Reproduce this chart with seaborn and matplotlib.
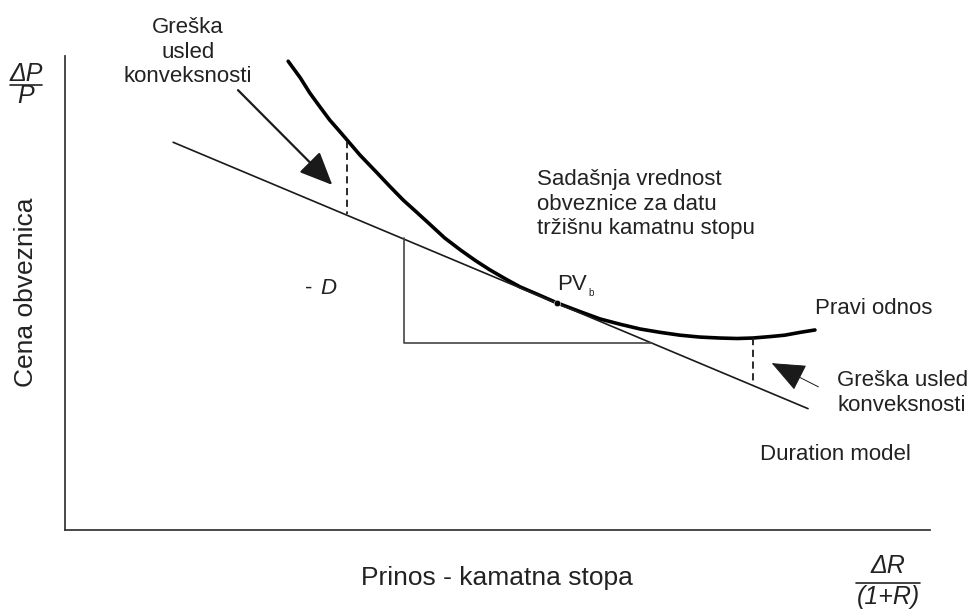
import matplotlib
matplotlib.use("Agg")
import matplotlib.pyplot as plt
import seaborn as sns

# data (abstract units, axes run 0..100 in both directions)
curve_x = [25.8, 27.2, 28.3, 29.5, 30.6, 31.8, 32.6, 34.1, 36.1, 37.6, 39.1, 40.5,
           42.0, 43.9, 45.7, 47.4, 49.1, 50.9, 52.6, 54.9, 56.9, 59.5, 61.9, 64.2,
           66.5, 68.8, 71.1, 73.4, 75.7, 77.7, 79.5, 81.5, 83.2, 85.0, 86.7]
curve_y = [98.9, 95.4, 92.2, 89.2, 86.5, 84.0, 82.3, 79.1, 75.3, 72.4, 69.6, 67.3,
           64.8, 61.6, 59.1, 56.9, 54.9, 53.0, 51.3, 49.5, 47.9, 46.1, 44.5, 43.4,
           42.4, 41.7, 41.1, 40.7, 40.5, 40.4, 40.5, 40.8, 41.1, 41.7, 42.2]

tangent_x = [12.5, 85.9]
tangent_y = [81.8, 25.6]

pv_x, pv_y = 56.9, 47.9

gap_left_x = [32.6, 32.6]
gap_left_y = [82.0, 66.7]
gap_right_x = [79.5, 79.5]
gap_right_y = [40.5, 30.4]

slope_x = [67.9, 39.2, 39.2]
slope_y = [39.5, 39.5, 61.5]

arrow_left = ((20.0, 92.8), (30.9, 72.8))    # tail, tip
arrow_right = ((87.1, 30.2), (81.7, 35.2))

W, H = 971, 610
sns.set_theme(style="white")
plt.rcParams['font.family'] = ['Liberation Sans', 'DejaVu Sans']

fig = plt.figure(figsize=(W / 100, H / 100), dpi=100)
ax = fig.add_axes([65 / W, 80 / H, 865 / W, 474 / H])
ax.set_xlim(0, 100)
ax.set_ylim(0, 100)
ax.set_xticks([])
ax.set_yticks([])
for s in ['top', 'right']:
    ax.spines[s].set_visible(False)
for s in ['left', 'bottom']:
    ax.spines[s].set_color('#3a3a3a')
    ax.spines[s].set_linewidth(1.3)

ink = '#1a1a1a'
sns.lineplot(x=curve_x, y=curve_y, sort=False, estimator=None, color='black', lw=2.6, ax=ax)
sns.lineplot(x=tangent_x, y=tangent_y, sort=False, estimator=None, color=ink, lw=1.2, ax=ax)
sns.lineplot(x=slope_x, y=slope_y, sort=False, estimator=None, color='#444444', lw=1.2, ax=ax)
for gx, gy in [(gap_left_x, gap_left_y), (gap_right_x, gap_right_y)]:
    sns.lineplot(x=gx, y=gy, sort=False, estimator=None, color=ink, lw=1.3,
                 linestyle=(0, (4, 2.5)), ax=ax)
sns.scatterplot(x=[pv_x], y=[pv_y], color='black', s=22, zorder=5, ax=ax)

ax.annotate('', xy=arrow_left[1], xytext=arrow_left[0],
            arrowprops=dict(arrowstyle='-|>,head_length=1.7,head_width=0.75',
                            lw=1.6, color=ink, shrinkA=0, shrinkB=0))
ax.annotate('', xy=arrow_right[1], xytext=arrow_right[0],
            arrowprops=dict(arrowstyle='-|>,head_length=1.8,head_width=0.75',
                            lw=0.7, color=ink, shrinkA=0, shrinkB=0))


def px_text(x, y, s, **kw):
    kw.setdefault('fontsize', 16)
    kw.setdefault('color', '#222222')
    kw.setdefault('va', 'center')
    fig.text(x / W, 1 - y / H, s, **kw)


def px_frac(x, y_num, y_bar, y_den, num, den, half, size=18):
    px_text(x, y_num, num, ha='center', fontsize=size, style='italic')
    px_text(x, y_den, den, ha='center', fontsize=size, style='italic')
    fig.add_artist(plt.Line2D([(x - half) / W, (x + half) / W],
                              [1 - y_bar / H, 1 - y_bar / H],
                              color='#222222', lw=1.2))


px_text(188, 52, "Greška\nusled\nkonveksnosti", ha='center', multialignment='center')
px_text(537, 204, "Sadašnja vrednost\nobveznice za datu\ntržišnu kamatnu stopu", ha='left')
px_text(557, 284, "PV", ha='left')
px_text(588, 293, "b", ha='left', fontsize=7)
px_text(305, 288, "- ", ha='left')
px_text(320, 288, "D", ha='left', style='italic')
px_text(815, 308, "Pravi odnos", ha='left')
px_text(837, 393, "Greška usled\nkonveksnosti", ha='left')
px_text(760, 455, "Duration model", ha='left')

px_text(26, 292, "Cena obveznica", ha='center', rotation=90, fontsize=19)
px_text(497, 578, "Prinos - kamatna stopa", ha='center', fontsize=19)

px_frac(26, 74, 85, 96, "ΔP", "P", 16)
px_frac(888, 566, 583, 597, "ΔR", "(1+R)", 32)

fig.savefig("out.png", dpi=100, facecolor='white')
